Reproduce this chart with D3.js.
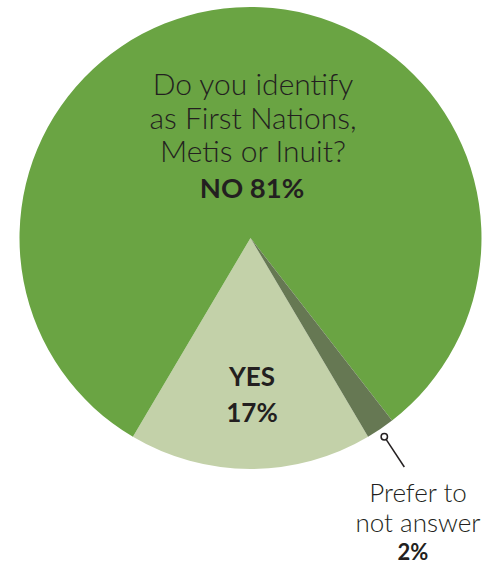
<!DOCTYPE html>
<html><head><meta charset="utf-8">
<script src="https://cdn.jsdelivr.net/npm/d3@7"></script>
<style>html,body{margin:0;padding:0;background:#fff;}svg{display:block;}</style>
</head><body>
<script>
const categories = ["YES", "NO", "Prefer not to answer"];
const values = [17, 81, 2];
const colors = ["#c3d1a9", "#6aa443", "#667853"];
const questionLines = ["Do you identify", "as First Nations,", "Metis or Inuit?"];
const noLabel = "NO 81%";
const yesLines = ["YES", "17%"];
const preferLines = ["Prefer to", "not answer"];
const preferValue = "2%";

const W = 499, H = 564, cx = 250.5, cy = 238, r = 231;
const svg = d3.select("body").append("svg").attr("width", W).attr("height", H);
const g = svg.append("g").attr("transform", `translate(${cx},${cy})`);

const startDeg = 149.4;
const pie = d3.pie().sort(null).value(d => d)
  .startAngle(startDeg * Math.PI / 180).endAngle((startDeg + 360) * Math.PI / 180);
const arcs = pie(values);
const arc = d3.arc().innerRadius(0).outerRadius(r);
g.selectAll("path").data(arcs).enter().append("path")
  .attr("d", arc).attr("fill", (d, i) => colors[i]);

const font = "Lato, 'Open Sans', sans-serif";
const ink = "#231f20";

const q = svg.append("g").attr("font-family", font).attr("fill", ink).attr("text-anchor", "middle");
questionLines.forEach((t, i) => {
  q.append("text").attr("x", 253).attr("y", 95 + i * 33.5).attr("font-size", 30).attr("font-weight", 300).text(t);
});
q.append("text").attr("x", 252).attr("y", 198).attr("font-size", 27.5).attr("font-weight", 700).text(noLabel);

yesLines.forEach((t, i) => {
  svg.append("text").attr("x", 252).attr("y", 386 + i * 36).attr("text-anchor", "middle")
    .attr("font-family", font).attr("font-size", 26).attr("font-weight", 700).attr("fill", ink).text(t);
});

svg.append("line").attr("x1", 384.3).attr("y1", 436.7).attr("x2", 404.3).attr("y2", 467)
  .attr("stroke", ink).attr("stroke-width", 1.5);
svg.append("circle").attr("cx", 384.3).attr("cy", 436.7).attr("r", 3.2)
  .attr("fill", "#fff").attr("stroke", ink).attr("stroke-width", 1.5);

preferLines.forEach((t, i) => {
  svg.append("text").attr("x", 418).attr("y", 502 + i * 30).attr("text-anchor", "middle")
    .attr("font-family", font).attr("font-size", 26).attr("font-weight", 300).attr("fill", ink).text(t);
});
svg.append("text").attr("x", 413).attr("y", 560).attr("text-anchor", "middle")
  .attr("font-family", font).attr("font-size", 22).attr("font-weight", 700).attr("fill", ink).text(preferValue);
</script>
</body></html>
